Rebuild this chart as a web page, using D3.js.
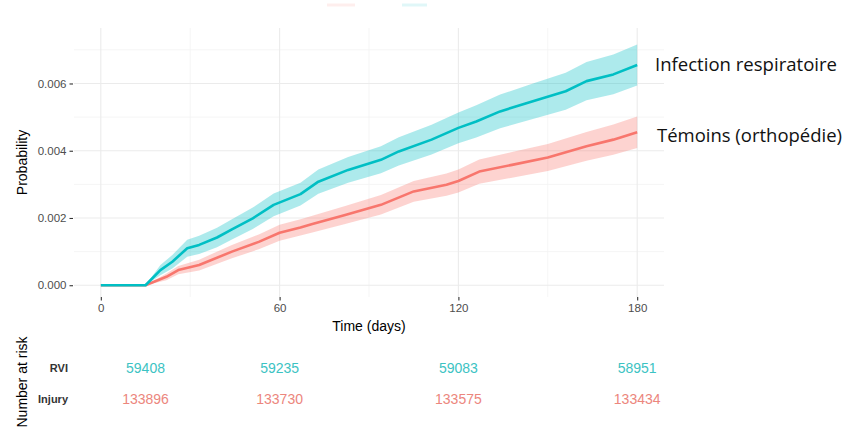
<!DOCTYPE html>
<html>
<head>
<meta charset="utf-8">
<script src="https://cdn.jsdelivr.net/npm/d3@7"></script>
<style>
  body { margin: 0; background: #fff; }
  svg text { font-family: "Liberation Sans", Arial, sans-serif; }
</style>
</head>
<body>
<svg id="chart" width="846" height="434"></svg>
<script>
// cumulative incidence
const rviDays  = [0, 15, 20, 24, 29, 33, 39, 44, 51, 58, 67, 73, 83, 94, 100, 111, 120, 126, 134, 145, 156, 163, 172, 180];
const rviEst   = [0, 0, 0.00045, 0.0007, 0.0011, 0.0012, 0.00142, 0.00166, 0.00199, 0.00239, 0.00271, 0.00308, 0.00343, 0.00373, 0.00398, 0.00433, 0.00468, 0.00487, 0.00517, 0.00547, 0.00577, 0.00607, 0.00627, 0.00655];
const rviLow   = [0, 0, 0.0003, 0.0005, 0.00085, 0.00093, 0.00113, 0.00136, 0.00167, 0.00205, 0.00237, 0.00272, 0.00305, 0.00333, 0.00356, 0.00389, 0.00422, 0.00439, 0.00467, 0.00494, 0.00522, 0.0055, 0.00568, 0.00594];
const rviHigh  = [0, 0, 0.0006, 0.0009, 0.00135, 0.00147, 0.00171, 0.00196, 0.00231, 0.00273, 0.00305, 0.00344, 0.00381, 0.00413, 0.0044, 0.00477, 0.00514, 0.00535, 0.00567, 0.006, 0.00632, 0.00664, 0.00686, 0.00716];

const injDays  = [0, 15, 22, 26, 33, 44, 53, 60, 67, 71, 82, 94, 105, 116, 120, 127, 138, 150, 163, 172, 180];
const injEst   = [0, 0, 0.00025, 0.00045, 0.0006, 0.001, 0.00129, 0.00156, 0.00172, 0.00182, 0.00209, 0.00239, 0.00279, 0.00299, 0.0031, 0.00338, 0.00358, 0.0038, 0.00413, 0.00433, 0.00455];
const injLow   = [0, 0, 0.00015, 0.00033, 0.00044, 0.0008, 0.00107, 0.00132, 0.00148, 0.00157, 0.00182, 0.0021, 0.00248, 0.00266, 0.00276, 0.00302, 0.0032, 0.0034, 0.0037, 0.00388, 0.00408];
const injHigh  = [0, 0, 0.00035, 0.00057, 0.00076, 0.0012, 0.00151, 0.0018, 0.00196, 0.00207, 0.00236, 0.00268, 0.0031, 0.00332, 0.00344, 0.00374, 0.00396, 0.0042, 0.00456, 0.00478, 0.00502];

const xTicks = [0, 60, 120, 180];
const xMinor = [30, 90, 150];
const yTicks = [0, 0.002, 0.004, 0.006];
const yMinor = [0.001, 0.003, 0.005, 0.007];

const riskTimes = [15, 60, 120, 180];
const riskGroups = ["RVI", "Injury"];
const riskRvi = [59408, 59235, 59083, 58951];
const riskInj = [133896, 133730, 133575, 133434];

const seriesNames = ["Infection respiratoire", "Témoins (orthopédie)"];

const cyan = "#00BFC4", red = "#F8766D";

const svg = d3.select("#chart");
const panel = {left: 74, right: 664, top: 28, bottom: 297};

const x = d3.scaleLinear().domain([-9, 189]).range([panel.left, panel.right]);
const y = d3.scaleLinear().domain([-0.00035, 0.00765]).range([panel.bottom, panel.top]);

// faint legend remnants at the top
svg.append("line").attr("x1", 327).attr("x2", 355).attr("y1", 5).attr("y2", 5)
  .attr("stroke", red).attr("stroke-width", 3).attr("stroke-opacity", 0.12);
svg.append("line").attr("x1", 402).attr("x2", 427).attr("y1", 5).attr("y2", 5)
  .attr("stroke", cyan).attr("stroke-width", 3).attr("stroke-opacity", 0.12);

// grid
const grid = svg.append("g");
grid.selectAll(".vmin").data(xMinor).enter().append("line")
  .attr("x1", d => x(d)).attr("x2", d => x(d)).attr("y1", panel.top).attr("y2", panel.bottom)
  .attr("stroke", "#f2f2f2").attr("stroke-width", 0.8);
grid.selectAll(".hmin").data(yMinor).enter().append("line")
  .attr("x1", panel.left).attr("x2", panel.right).attr("y1", d => y(d)).attr("y2", d => y(d))
  .attr("stroke", "#f2f2f2").attr("stroke-width", 0.8);
grid.selectAll(".vmaj").data(xTicks).enter().append("line")
  .attr("x1", d => x(d)).attr("x2", d => x(d)).attr("y1", panel.top).attr("y2", panel.bottom)
  .attr("stroke", "#ebebeb").attr("stroke-width", 1.1);
grid.selectAll(".hmaj").data(yTicks).enter().append("line")
  .attr("x1", panel.left).attr("x2", panel.right).attr("y1", d => y(d)).attr("y2", d => y(d))
  .attr("stroke", "#ebebeb").attr("stroke-width", 1.1);

function drawCurve(days, est, low, high, color) {
  const pts = days.map((d, i) => ({t: d, e: est[i], lo: low[i], hi: high[i]}));
  const area = d3.area()
    .x(d => x(d.t)).y0(d => y(d.lo)).y1(d => y(d.hi));
  svg.append("path").datum(pts)
    .attr("fill", color).attr("fill-opacity", 0.32).attr("d", area);
  const line = d3.line().x(d => x(d.t)).y(d => y(d.e));
  svg.append("path").datum(pts)
    .attr("fill", "none").attr("stroke", color).attr("stroke-width", 2.6)
    .attr("stroke-linejoin", "round").attr("d", line);
}
drawCurve(injDays, injEst, injLow, injHigh, red);
drawCurve(rviDays, rviEst, rviLow, rviHigh, cyan);

// axes
const yAxis = svg.append("g")
  .attr("transform", `translate(${panel.left - 1},0)`)
  .call(d3.axisLeft(y).tickValues(yTicks).tickFormat(d3.format(".3f")).tickSize(3.5).tickPadding(3));
const xAxis = svg.append("g")
  .attr("transform", `translate(0,${panel.bottom})`)
  .call(d3.axisBottom(x).tickValues(xTicks).tickSize(3.5).tickPadding(3));
[yAxis, xAxis].forEach(a => {
  a.select(".domain").remove();
  a.selectAll(".tick line").attr("stroke", "#333").attr("stroke-width", 1.1);
  a.selectAll(".tick text").attr("fill", "#4d4d4d").style("font-size", "11.5px");
});

svg.append("text").attr("x", (panel.left + panel.right) / 2).attr("y", 331)
  .attr("text-anchor", "middle").style("font-size", "14px").text("Time (days)");
svg.append("text").attr("transform", `translate(27,${(panel.top + panel.bottom) / 2}) rotate(-90)`)
  .attr("text-anchor", "middle").style("font-size", "14px").text("Probability");

// series labels on the right
svg.append("text").attr("x", 655).attr("y", 71)
  .style("font-family", "'Open Sans', sans-serif").style("font-size", "18px")
  .attr("textLength", 182).attr("lengthAdjust", "spacingAndGlyphs")
  .attr("fill", "#111").text(seriesNames[0]);
svg.append("text").attr("x", 657).attr("y", 142)
  .style("font-family", "'Open Sans', sans-serif").style("font-size", "18px")
  .attr("textLength", 185).attr("lengthAdjust", "spacingAndGlyphs")
  .attr("fill", "#111").text(seriesNames[1]);

// risk table
const rowY = [373, 404];
svg.append("text").attr("transform", "translate(27,382) rotate(-90)")
  .attr("text-anchor", "middle").style("font-size", "14px").text("Number at risk");
riskGroups.forEach((g, i) => {
  svg.append("text").attr("x", 68).attr("y", rowY[i] - 1)
    .attr("text-anchor", "end").style("font-size", "11px").style("font-weight", "bold")
    .attr("fill", "#333").text(g);
});
[[riskRvi, "#3cc3c3"], [riskInj, "#ec867d"]].forEach(([vals, col], i) => {
  svg.selectAll(null).data(vals).enter().append("text")
    .attr("x", (d, j) => x(riskTimes[j])).attr("y", rowY[i])
    .attr("text-anchor", "middle").style("font-size", "14px")
    .attr("fill", col).text(d => d);
});
</script>
</body>
</html>
